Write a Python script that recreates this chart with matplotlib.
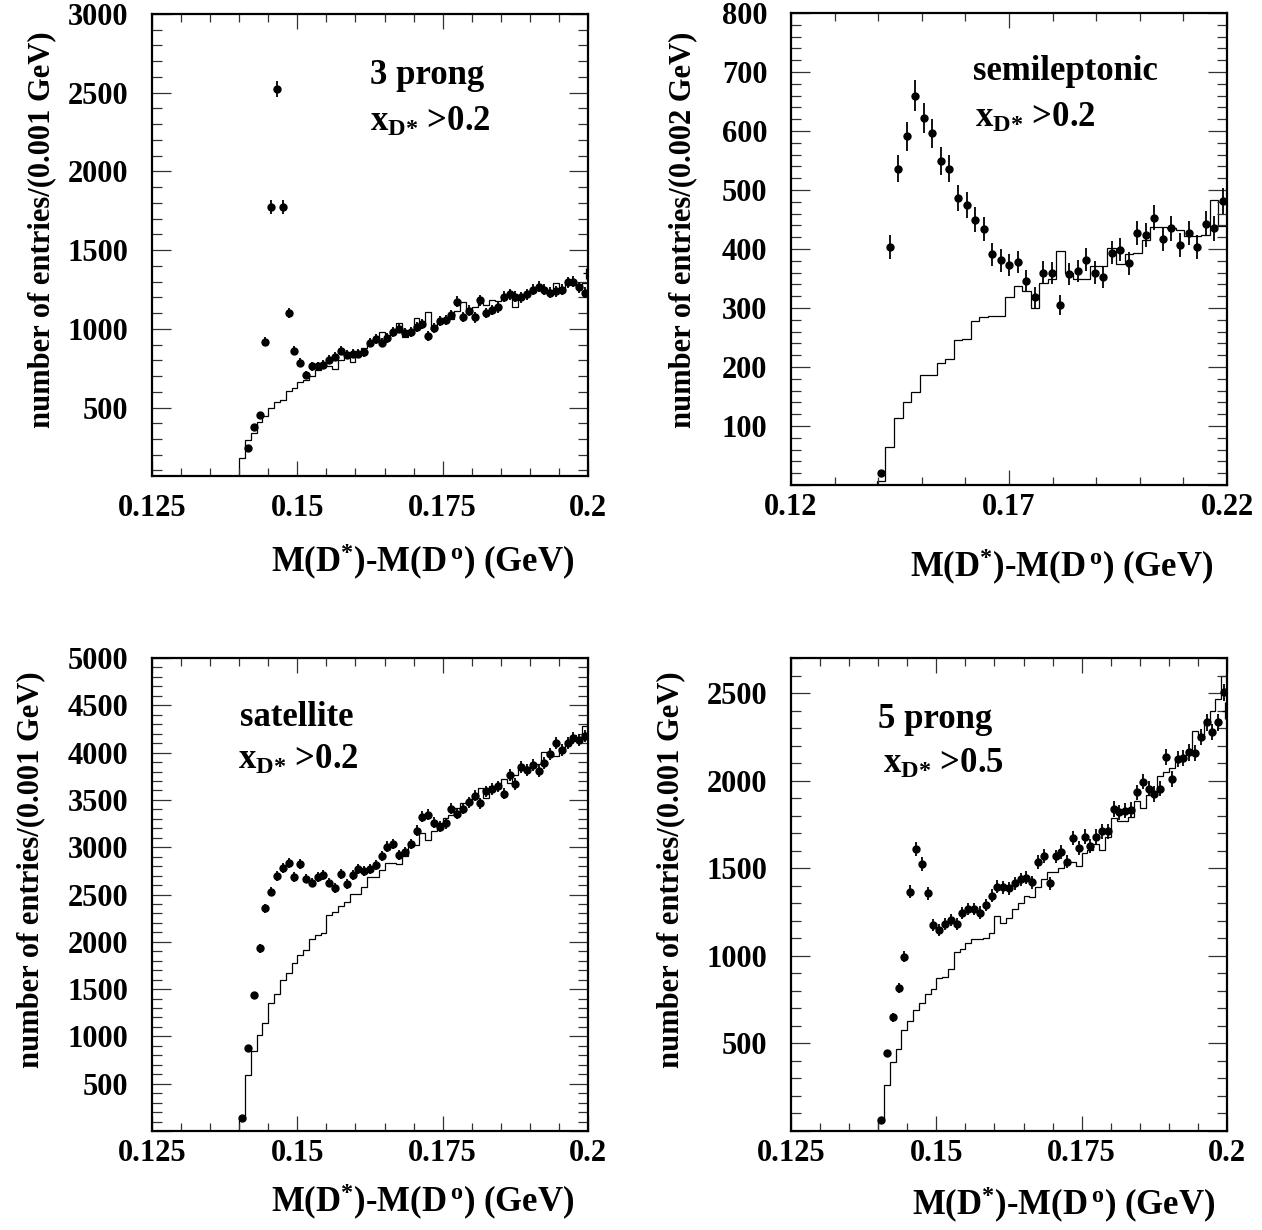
import numpy as np
import matplotlib
matplotlib.use('Agg')
import matplotlib.pyplot as plt
from matplotlib.ticker import MultipleLocator, FixedLocator, FuncFormatter

plt.rcParams['font.family'] = ['Liberation Serif', 'DejaVu Serif']
plt.rcParams['font.weight'] = 'bold'
plt.rcParams['mathtext.fontset'] = 'custom'
plt.rcParams['mathtext.rm'] = 'Liberation Serif:bold'
plt.rcParams['mathtext.it'] = 'Liberation Serif:bold'
plt.rcParams['mathtext.bf'] = 'Liberation Serif:bold'

# ---- 3 prong, x_D* > 0.2  (bins of 0.001 GeV, 0.140 - 0.200)
prong3_data = [40, 240, 377, 453, 918, 1774, 2522, 1774, 1102, 860,
               784, 708, 761, 761, 771, 805, 822, 860, 835, 843,
               843, 850, 913, 934, 913, 941, 981, 1002, 973, 981,
               1013, 1030, 956, 1004, 1051, 1055, 1087, 1172, 1076, 1115,
               1072, 1182, 1102, 1121, 1136, 1204, 1221, 1204, 1199, 1221,
               1248, 1267, 1248, 1229, 1238, 1248, 1295, 1299, 1263, 1229]
prong3_mc = [178, 292, 335, 405, 447, 496, 536, 549, 606, 627,
             663, 676, 701, 740, 761, 761, 744, 801, 835, 792,
             860, 881, 903, 928, 981, 949, 983, 1034, 949, 992,
             1066, 1034, 1104, 1002, 1051, 1055, 1062, 1115, 1172, 1119,
             1140, 1182, 1151, 1182, 1178, 1210, 1216, 1140, 1195, 1231,
             1257, 1267, 1242, 1231, 1290, 1246, 1295, 1305, 1273, 1288]
prong3_edge = 1352

# ---- semileptonic, x_D* > 0.2  (bins of ~0.002 GeV)
semi_data = [20, 403, 536, 591, 660, 622, 596, 549, 536, 486,
             475, 450, 434, 391, 381, 373, 378, 346, 318, 360,
             359, 305, 358, 363, 382, 360, 353, 394, 399, 376,
             427, 424, 453, 417, 435, 407, 427, 403, 443, 435, 482]
semi_mc = [6, 65, 113, 140, 158, 186, 187, 206, 214, 245,
           248, 278, 284, 287, 287, 318, 338, 328, 300, 343,
           350, 397, 360, 349, 349, 371, 371, 401, 374, 391,
           394, 415, 438, 438, 436, 433, 422, 422, 424, 483, 439]

# ---- satellite, x_D* > 0.2
sat_data = [141, 882, 1433, 1930, 2354, 2530, 2696, 2777, 2830, 2682,
            2823, 2668, 2626, 2689, 2707, 2626, 2566, 2714, 2612, 2703,
            2767, 2749, 2774, 2809, 2908, 3007, 3031, 2919, 2947, 3035,
            3176, 3324, 3342, 3261, 3218, 3254, 3405, 3353, 3405, 3476,
            3543, 3466, 3589, 3614, 3642, 3564, 3766, 3670, 3847, 3818,
            3868, 3808, 3889, 3988, 4101, 4023, 4101, 4154, 4136, 4178]
sat_mc = [113, 589, 843, 1020, 1143, 1348, 1443, 1595, 1673, 1779,
          1860, 1913, 2026, 2072, 2089, 2283, 2319, 2379, 2424, 2506,
          2506, 2583, 2682, 2682, 2760, 2837, 2837, 2823, 2911, 3024,
          3024, 3155, 3077, 3166, 3261, 3307, 3342, 3412, 3466, 3483,
          3536, 3624, 3525, 3642, 3670, 3720, 3677, 3766, 3836, 3847,
          3847, 3882, 4002, 3967, 3967, 4048, 4094, 4189, 4143, 4284]

# ---- 5 prong, x_D* > 0.5
prong5_data = [62, 443, 649, 818, 995, 1367, 1609, 1523, 1357, 1176,
               1148, 1182, 1205, 1182, 1243, 1266, 1268, 1247, 1291, 1342,
               1395, 1392, 1386, 1414, 1437, 1447, 1420, 1534, 1571, 1414,
               1567, 1595, 1538, 1671, 1614, 1681, 1628, 1681, 1710, 1710,
               1838, 1820, 1828, 1834, 1933, 1995, 1954, 1923, 1954, 2133,
               2009, 2123, 2129, 2161, 2157, 2249, 2333, 2278, 2333, 2504]
prong5_mc = [62, 262, 395, 466, 576, 627, 690, 732, 782, 808,
             871, 881, 923, 1020, 1037, 1071, 1094, 1094, 1104, 1129,
             1228, 1186, 1214, 1266, 1300, 1342, 1338, 1395, 1437, 1481,
             1481, 1500, 1538, 1538, 1513, 1586, 1605, 1640, 1605, 1681,
             1786, 1767, 1767, 1792, 1885, 1843, 1920, 1929, 2028, 2047,
             2072, 2104, 2138, 2167, 2281, 2237, 2338, 2395, 2466, 2595]
prong5_edge = 2399

W, H = 1262, 1230
fig = plt.figure(figsize=(W / 100, H / 100), dpi=100)


def px_axes(l, t, r, b):
    return fig.add_axes([l / W, 1 - b / H, (r - l) / W, (b - t) / H])


def fmt(v, pos):
    return '' if v == 0 else '%g' % v


def style(ax, xlim, ylim, xmaj, xmin, ymaj, ymin, xpad):
    ax.set_xlim(*xlim)
    ax.set_ylim(*ylim)
    ax.xaxis.set_major_locator(FixedLocator(xmaj))
    ax.xaxis.set_minor_locator(MultipleLocator(xmin))
    ax.yaxis.set_major_locator(MultipleLocator(ymaj))
    ax.yaxis.set_minor_locator(MultipleLocator(ymin))
    ax.xaxis.set_major_formatter(FuncFormatter(fmt))
    ax.yaxis.set_major_formatter(FuncFormatter(fmt))
    ax.tick_params(which='both', direction='in', top=True, right=True,
                   labelsize=22, width=0.9, color='#333333')
    ax.tick_params(axis='y', which='major', length=14, pad=17)
    ax.tick_params(axis='y', which='minor', length=7)
    ax.tick_params(axis='x', which='major', length=11, pad=xpad)
    ax.tick_params(axis='x', which='minor', length=6)
    for s in ax.spines.values():
        s.set_linewidth(1.6)


def draw(ax, edges, data, mc):
    edges = np.asarray(edges)
    centers = 0.5 * (edges[1:] + edges[:-1])
    data = np.asarray(data, dtype=float)
    ax.stairs(mc, edges, color='k', lw=0.9)
    ax.errorbar(centers, data, yerr=np.sqrt(data), fmt='o', ms=5,
                color='k', elinewidth=1.3, capsize=0)


edges1 = np.arange(0.140, 0.2005, 0.001)
edges2 = np.linspace(0.1397, 0.22, 42)
xt1 = [0.125, 0.15, 0.175, 0.2]
xt2 = [0.12, 0.17, 0.22]

ax1 = px_axes(152, 14, 588, 476)
draw(ax1, edges1, prong3_data, prong3_mc)
ax1.errorbar([0.1997], [prong3_edge], yerr=[np.sqrt(prong3_edge)],
             xerr=[0.0005], fmt='none', color='k', elinewidth=0.9)
style(ax1, (0.125, 0.2), (65, 3000), xt1, 0.005, 500, 100, 13)

ax2 = px_axes(791, 13, 1227, 485)
draw(ax2, edges2, semi_data, semi_mc)
style(ax2, (0.12, 0.22), (0, 800), xt2, 0.01, 100, 20, 6)

ax3 = px_axes(152, 658, 588, 1131)
draw(ax3, edges1, sat_data, sat_mc)
style(ax3, (0.125, 0.2), (0, 5000), xt1, 0.005, 500, 100, 6)

ax4 = px_axes(791, 658, 1227, 1131)
draw(ax4, edges1, prong5_data, prong5_mc)
ax4.errorbar([0.1997], [prong5_edge], yerr=[np.sqrt(prong5_edge)],
             xerr=[0.0005], fmt='none', color='k', elinewidth=0.9)
style(ax4, (0.125, 0.2), (0, 2700), xt1, 0.005, 500, 100, 6)


def ftext(x, y, s, **kw):
    fig.text(x / W, 1 - y / H, s, **kw)


ylab1 = 'number of entries/(0.001 GeV)'
ylab2 = 'number of entries/(0.002 GeV)'
xlab = r'M(D$^{*}$)-M(D$^{\,o}$) (GeV)'
for x, y, s in [(42, 230, ylab1), (683, 230, ylab2),
                (31, 870, ylab1), (671, 870, ylab1)]:
    ftext(x, y, s, rotation=90, ha='center', va='center', fontsize=22)
for x, y in [(423, 562), (1062, 567), (423, 1202), (1064, 1205)]:
    ftext(x, y, xlab, ha='center', va='center', fontsize=25)

lab_sz = 25
for x, y, s in [(370, 76, '3 prong'), (973, 72, 'semileptonic'),
                (240, 718, 'satellite'), (878, 720, '5 prong')]:
    ftext(x, y, s, ha='left', va='center', fontsize=lab_sz)
for x, y, s in [(370, 122, r'x$_{D{*}}$ >0.2'), (975, 118, r'x$_{D{*}}$ >0.2'),
                (238, 760, r'x$_{D{*}}$ >0.2'), (883, 764, r'x$_{D{*}}$ >0.5')]:
    ftext(x, y, s, ha='left', va='center', fontsize=lab_sz)

fig.savefig('out.png', dpi=100)
